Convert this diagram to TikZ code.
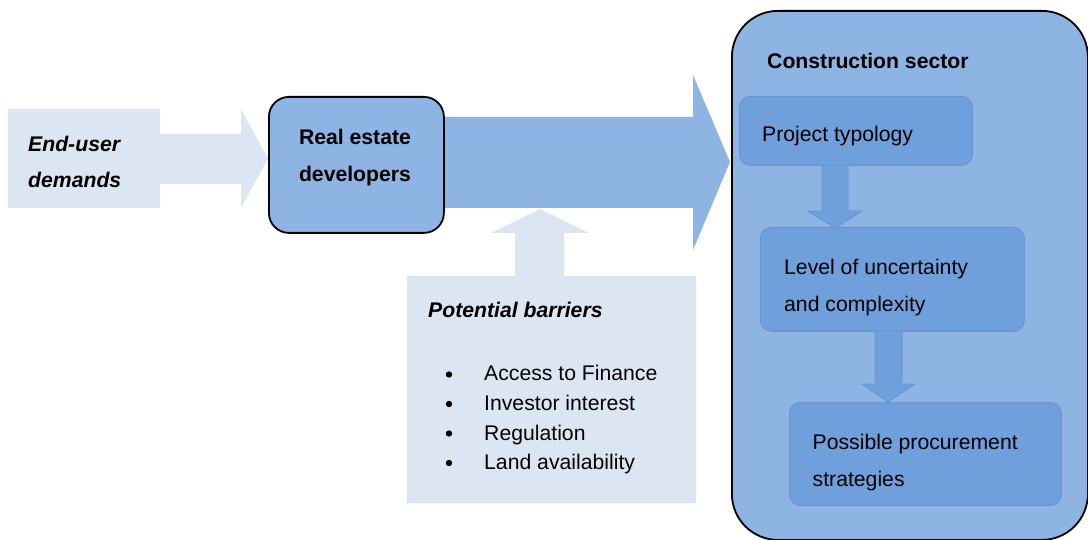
\documentclass[tikz,border=0pt]{standalone}
\usepackage{fontspec}
\setmainfont{Liberation Sans}
\definecolor{lightbl}{HTML}{DCE6F2}
\definecolor{midbl}{HTML}{8EB4E3}
\definecolor{innerbl}{HTML}{6FA0DC}
\definecolor{innerln}{HTML}{6594D2}
\begin{document}
\begin{tikzpicture}[x=1pt,y=-1pt,
  txt/.style={anchor=base west,inner sep=0pt,font=\fontsize{21.2}{25}\selectfont},
  txtc/.style={anchor=base,inner sep=0pt,font=\fontsize{21.2}{25}\selectfont\bfseries},
  innerbox/.style={fill=innerbl,draw=innerln,line width=0.8pt,rounded corners=11pt},
  innerarrow/.style={fill=innerbl,draw=innerln,line width=0.8pt}]
\useasboundingbox (0,0) rectangle (1088,540);
% End-user callout arrow
\fill[lightbl] (8,109) -- (160,109) -- (160,134) -- (241,134) -- (241,109) -- (268,158.5)
  -- (241,208) -- (241,184) -- (160,184) -- (160,208) -- (8,208) -- cycle;
% big arrow
\fill[midbl] (440,117) -- (693,117) -- (693,75) -- (730,162) -- (693,250) -- (693,208) -- (440,208) -- cycle;
% potential barriers callout
\fill[lightbl] (407,276) -- (515,276) -- (515,233) -- (491,233) -- (540,209) -- (589,233)
  -- (564,233) -- (564,276) -- (696,276) -- (696,503) -- (407,503) -- cycle;
% Real estate box
\node[draw=black,line width=1.8pt,fill=midbl,rounded corners=20pt,minimum width=175pt,minimum height=136pt,anchor=north west,inner sep=0pt] (red) at (268,96) {};
\node[txtc] (red1) at (355,145) {Real estate};
\node[txtc] (red2) at (355,182) {developers};
% End-user text
\node[txt,font=\fontsize{21.2}{25}\selectfont\bfseries\itshape] (eu1) at (28,152) {End-user};
\node[txt,font=\fontsize{21.2}{25}\selectfont\bfseries\itshape] (eu2) at (28,188) {demands};
% Potential barriers text
\node[txt,font=\fontsize{21.2}{25}\selectfont\bfseries\itshape] (pb) at (428,318) {Potential barriers};
\foreach \yy/\tt [count=\i] in {381/Access to Finance,410.5/Investor interest,440/Regulation,469.5/Land availability}{
  \fill (449,\yy-6.5) circle (3.2pt);
  \node[txt] (b\i) at (484,\yy) {\tt};
}
% Construction sector
\node[draw=black,line width=1.8pt,fill=midbl,rounded corners=46pt,minimum width=356pt,minimum height=529pt,anchor=north west,inner sep=0pt] (cs) at (731,10) {};
\node[txt,font=\fontsize{21.2}{25}\selectfont\bfseries] (cst) at (767,69) {Construction sector};
% inner boxes
\node[innerbox,minimum width=233pt,minimum height=69pt,anchor=north west,inner sep=0pt] (pt) at (739,96) {};
\node[txt] (ptt) at (762,141.7) {Project typology};
\node[innerbox,minimum width=264pt,minimum height=104pt,anchor=north west,inner sep=0pt] (lu) at (760,227) {};
\node[txt] (lut1) at (784,275) {Level of uncertainty};
\node[txt] (lut2) at (784,311.7) {and complexity};
\node[innerbox,minimum width=272pt,minimum height=103pt,anchor=north west,inner sep=0pt] (pp) at (789,402) {};
\node[txt] (ppt1) at (812.5,449.3) {Possible procurement};
\node[txt] (ppt2) at (812.5,486.7) {strategies};
% inner arrows
\draw[innerarrow] (822,165) -- (848,165) -- (848,211) -- (862,211) -- (835,228) -- (808,211) -- (822,211) -- cycle;
\draw[innerarrow] (875,331) -- (902,331) -- (902,384) -- (915,384) -- (888,402) -- (862,384) -- (875,384) -- cycle;
\end{tikzpicture}
\end{document}
